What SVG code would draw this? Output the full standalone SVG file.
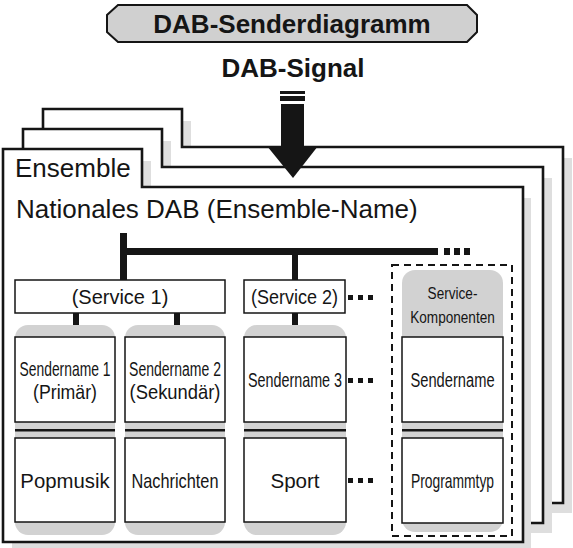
<svg xmlns="http://www.w3.org/2000/svg" width="573" height="548" viewBox="0 0 573 548">
<defs>
<style>
text{font-family:"Liberation Sans",Arial,sans-serif;fill:#151515}
.big{font-size:26px}
.b{font-weight:bold}
.m{font-size:21px;text-anchor:middle}
.t{font-size:20px;text-anchor:middle}
.sv{font-size:20px;text-anchor:middle}
.s{font-size:17px;text-anchor:middle}
.page{fill:#fff;stroke:#151515;stroke-width:2.6}
.shadow{fill:#dedede}
.box{fill:#fff;stroke:#151515;stroke-width:1.5}
.col{fill:#d2d2d2}
.sep{fill:#151515}
</style>
</defs>
<g id="title">
<polygon points="118,5 467,5 477,15 477,32 467,42 118,42 107,32 107,15" fill="#d0d0d0" stroke="#151515" stroke-width="2"/>
<text class="big b" x="292" y="33" text-anchor="middle">DAB-Senderdiagramm</text>
</g>
<g id="signal">
<text class="big b" x="293" y="77" text-anchor="middle">DAB-Signal</text>
</g>
<g id="pages">
<path class="shadow" d="M52,513 V121 H191 V158 H572 V513 Z"/>
<path class="page" d="M43,503 V109 H182 V147 H563 V503 Z"/>
<path class="shadow" d="M32,533 V141 H171 V178 H552 V533 Z"/>
<path class="page" d="M23,523 V129 H162 V167 H543 V523 Z"/>
<path class="shadow" d="M12,552 V161 H151 V198 H531 V552 Z"/>
<path class="page" d="M3,542 V149 H142 V187 H523 V542 Z"/>
</g>
<g id="arrow" fill="#151515">
<rect x="280" y="91" width="25" height="3"/>
<rect x="280" y="96" width="25" height="5"/>
<rect x="281" y="104" width="23" height="43"/>
<polygon points="267,146 318,146 293,178"/>
</g>
<g id="ensemble">
<text class="big" x="15" y="177">Ensemble</text>
<text class="big" x="16" y="218">Nationales DAB (Ensemble-Name)</text>
</g>
<g id="connectors" fill="#151515">
<rect x="120" y="233" width="7" height="47"/>
<rect x="120" y="248" width="318" height="7"/>
<rect x="444" y="248" width="6" height="7"/>
<rect x="454" y="248" width="6" height="7"/>
<rect x="464" y="248" width="6" height="7"/>
<rect x="292" y="255" width="6" height="25"/>
<rect x="73" y="313" width="6" height="12"/>
<rect x="174" y="313" width="6" height="12"/>
<rect x="292" y="313" width="6" height="12"/>
<rect x="348" y="295" width="5" height="5"/>
<rect x="358" y="295" width="5" height="5"/>
<rect x="368" y="295" width="5" height="5"/>
<rect x="348" y="378" width="5" height="5"/>
<rect x="358" y="378" width="5" height="5"/>
<rect x="368" y="378" width="5" height="5"/>
<rect x="348" y="478" width="5" height="5"/>
<rect x="358" y="478" width="5" height="5"/>
<rect x="368" y="478" width="5" height="5"/>
</g>
<g id="service1">
<rect class="box" x="15" y="280" width="210" height="33"/>
<text class="sv" x="120" y="304">(Service 1)</text>
</g>
<g id="service2">
<rect class="box" x="244" y="280" width="101" height="33"/>
<text class="sv" transform="translate(294.5,304) scale(0.9,1)">(Service 2)</text>
</g>
<g id="col1">
<rect class="col" x="15" y="325" width="100" height="210" rx="13"/>
<rect class="box" x="15" y="337" width="100" height="85"/>
<rect class="sep" x="15" y="429" width="100" height="2.5"/>
<rect class="box" x="15" y="438" width="100" height="84"/>
<text class="t" transform="translate(65,376) scale(0.694,1)">Sendername 1</text>
<text class="t" transform="translate(65,399) scale(0.886,1)">(Primär)</text>
<text class="m" transform="translate(65,488) scale(0.97,1)">Popmusik</text>
</g>
<g id="col2">
<rect class="col" x="125" y="325" width="100" height="210" rx="13"/>
<rect class="box" x="125" y="337" width="100" height="85"/>
<rect class="sep" x="125" y="429" width="100" height="2.5"/>
<rect class="box" x="125" y="438" width="100" height="84"/>
<text class="t" transform="translate(175,376) scale(0.701,1)">Sendername 2</text>
<text class="t" transform="translate(175,399) scale(0.92,1)">(Sekundär)</text>
<text class="m" transform="translate(175,488) scale(0.777,1)">Nachrichten</text>
</g>
<g id="col3">
<rect class="col" x="244" y="325" width="102" height="210" rx="13"/>
<rect class="box" x="244" y="337" width="102" height="85"/>
<rect class="sep" x="244" y="429" width="102" height="2.5"/>
<rect class="box" x="244" y="438" width="102" height="84"/>
<text class="m" transform="translate(295,387) scale(0.683,1)">Sendername 3</text>
<text class="m" transform="translate(295,488) scale(0.98,1)">Sport</text>
</g>
<g id="col4">
<rect x="392" y="265" width="120" height="271" fill="none" stroke="#151515" stroke-width="2" stroke-dasharray="7 5"/>
<rect class="col" x="402" y="270" width="101" height="262" rx="13"/>
<rect class="box" x="402" y="337" width="101" height="85"/>
<rect class="sep" x="402" y="429" width="101" height="2.5"/>
<rect class="box" x="402" y="438" width="101" height="85"/>
<text class="s" transform="translate(452.5,299) scale(0.8,1)">Service-</text>
<text class="s" transform="translate(452.5,323) scale(0.8,1)">Komponenten</text>
<text class="m" transform="translate(452.5,387) scale(0.7,1)">Sendername</text>
<text class="m" transform="translate(452.5,488) scale(0.66,1)">Programmtyp</text>
</g>
</svg>
